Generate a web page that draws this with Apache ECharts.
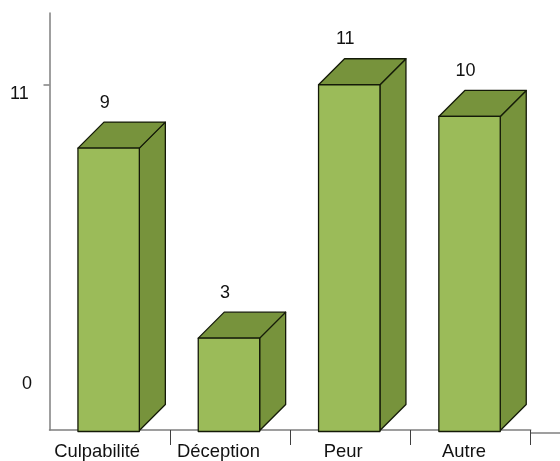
<!DOCTYPE html>
<html>
<head>
<meta charset="utf-8">
<style>html,body{margin:0;padding:0;background:#fff;overflow:hidden}#c{width:560px;height:461px}</style>
<script src="https://cdn.jsdelivr.net/npm/echarts@6/dist/echarts.min.js"></script>
</head>
<body>
<div id="c"></div>
<script>
const categories = ['Culpabilité', 'Déception', 'Peur', 'Autre'];
const values = [9, 3, 11, 10];
const tickValues = [11];
const leftLabels = ['11', '0'];

const FONT = '"Liberation Sans", Arial, sans-serif';
const FRONT = '#9BBB59', SIDE = '#77933C', EDGE = '#141a08';
const DEPTH = 26, BAR_W = 61.4, BAR_SHIFT = -1;
const labelRich = {
  k0: {padding: [0, 25, 0, 0]},
  k1: {padding: [0, 23, 0, 0]},
  k2: {padding: [0, 14, 0, 0]},
  k3: {padding: [0, 13, 0, 0]}
};

const chart = echarts.init(document.getElementById('c'), null, {renderer: 'canvas'});
chart.setOption({
  animation: false,
  backgroundColor: '#fff',
  grid: {left: 49.5, width: 481.2, top: 13, height: 420.5, containLabel: false},
  xAxis: {
    type: 'category',
    data: categories,
    axisLine: {lineStyle: {color: '#7f7f7f', width: 1.5}},
    axisTick: {show: true, length: 15, interval: (i) => i > 0, lineStyle: {color: '#404040', width: 1}},
    axisLabel: {
      interval: 0, color: '#111', fontFamily: FONT, fontSize: 18.4, margin: 13, hideOverlap: false,
      formatter: (v, i) => `{k${i}|${v}}`,
      rich: labelRich
    }
  },
  yAxis: {
    type: 'value',
    min: 0.1,
    max: 13.266,
    splitLine: {show: false},
    axisLine: {show: true, lineStyle: {color: '#7f7f7f', width: 1.5}},
    axisTick: {show: true, length: 6, customValues: tickValues, lineStyle: {color: '#7f7f7f', width: 1.5}},
    axisLabel: {show: false}
  },
  graphic: [
    {type: 'text', left: 10, top: 85, style: {text: leftLabels[0], fill: '#111', font: '18px ' + FONT}},
    {type: 'text', left: 22, top: 375, style: {text: leftLabels[1], fill: '#111', font: '18px ' + FONT}},
    {type: 'line', shape: {x1: 530, y1: 433, x2: 560, y2: 433}, style: {stroke: '#7f7f7f', lineWidth: 1.5}}
  ],
  series: [{
    type: 'custom',
    clip: false,
    z: 5,
    data: values.map((v, i) => [i, v]),
    renderItem(params, api) {
      const top = api.coord([api.value(0), api.value(1)]);
      const cs = params.coordSys;
      const base = Math.min(api.coord([api.value(0), 0])[1], cs.y + cs.height + 1.5);
      const x0 = top[0] + BAR_SHIFT - BAR_W / 2, x1 = x0 + BAR_W, y0 = top[1];
      const line = {stroke: EDGE, lineWidth: 1.3, lineJoin: 'round'};
      return {
        type: 'group',
        children: [
          {type: 'polygon', shape: {points: [[x1, y0], [x1 + DEPTH, y0 - DEPTH], [x1 + DEPTH, base - DEPTH - 1], [x1, base - 1]]},
            style: Object.assign({fill: SIDE}, line)},
          {type: 'polygon', shape: {points: [[x0, y0], [x0 + DEPTH, y0 - DEPTH], [x1 + DEPTH, y0 - DEPTH], [x1, y0]]},
            style: Object.assign({fill: SIDE}, line)},
          {type: 'rect', shape: {x: x0, y: y0, width: BAR_W, height: base - y0},
            style: Object.assign({fill: FRONT}, line)},
          {type: 'text', style: {text: String(api.value(1)), x: top[0] - 5, y: y0 - 45.5, align: 'center', verticalAlign: 'middle',
            fill: '#111', font: '18px ' + FONT}}
        ]
      };
    }
  }]
});
</script>
</body>
</html>
